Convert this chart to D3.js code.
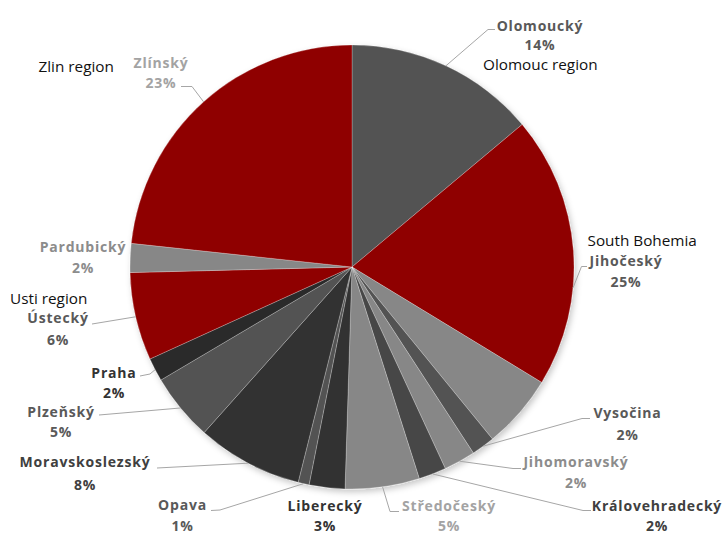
<!DOCTYPE html>
<html>
<head>
<meta charset="utf-8">
<script src="https://cdn.jsdelivr.net/npm/d3@7"></script>
<style>
  html, body { margin: 0; padding: 0; background: #ffffff; }
  svg { display: block; }
</style>
</head>
<body>
<svg id="chart" width="725" height="534"></svg>
<script>
// Regional shares (%), clockwise from twelve o'clock
const regions = ["Olomoucký", "Jihočeský", "Vysočina", "Jihomoravský", "Královehradecký",
  "Středočeský", "Liberecký", "Opava", "Moravskoslezský", "Plzeňský", "Praha",
  "Ústecký", "Pardubický", "Zlínský"];
const shares = [13.9, 25.2, 1.7, 2.3, 2.0, 5.4, 2.6, 0.8, 7.7, 4.9, 1.7, 6.4, 2.1, 23.3];

// Jihočeský is drawn in two tones: the highlighted part and the remainder
const splitRegion = "Jihočeský";
const splitParts = [19.8, 5.4];

// Free-text notes attached to some regions
const noteRegions = ["Olomoucký", "Jihočeský", "Ústecký", "Zlínský"];
const noteTexts = ["Olomouc region", "South Bohemia", "Usti region", "Zlin region"];

// ---- styling ----
const RED = "#8f0000", MID = "#525252", LIGHT = "#878787", DARK = "#333333";
const sliceFill = {
  "Olomoucký": MID, "Jihočeský": RED, "Vysočina": MID, "Jihomoravský": LIGHT,
  "Královehradecký": "#474747", "Středočeský": LIGHT, "Liberecký": DARK, "Opava": MID,
  "Moravskoslezský": DARK, "Plzeňský": MID, "Praha": "#2a2a2a", "Ústecký": RED,
  "Pardubický": LIGHT, "Zlínský": RED
};
const splitFill = [RED, LIGHT];
const labelFill = {
  "Olomoucký": "#595959", "Jihočeský": "#595959", "Vysočina": "#595959",
  "Jihomoravský": "#8c8c8c", "Královehradecký": "#404040", "Středočeský": "#a3a3a3",
  "Liberecký": "#333333", "Opava": "#595959", "Moravskoslezský": "#404040",
  "Plzeňský": "#595959", "Praha": "#333333", "Ústecký": "#595959",
  "Pardubický": "#8c8c8c", "Zlínský": "#a3a3a3"
};

// Label placement: x = text centre, y = name baseline, py = percentage baseline,
// leader = bend/end points of the leader line (it starts on the rim of the slice)
const labelLayout = {
  "Olomoucký":       { x: 540,   y: 30.5,  py: 49.5,  leader: [[488, 29.5], [495, 29.5]] },
  "Jihočeský":       { x: 626,   y: 265.5, py: 286.5, leader: [[581.5, 266.5], [587, 266.5]] },
  "Vysočina":        { x: 627.5, y: 418,   py: 440,   leader: [[582, 418.5], [590, 418.5]] },
  "Jihomoravský":    { x: 576,   y: 467,   py: 488,   leader: [[513, 468.5], [521, 468.5]] },
  "Královehradecký": { x: 657,   y: 511,   py: 530.5, leader: [[583, 510.5], [591, 510.5]] },
  "Středočeský":     { x: 449,   y: 510.5, py: 530.5, leader: [[390, 511.5], [399, 511.5]] },
  "Liberecký":       { x: 325,   y: 510.5, py: 530.5, leader: [] },
  "Opava":           { x: 182.5, y: 510,   py: 530.5, leader: [[220, 510], [211, 510.5]] },
  "Moravskoslezský": { x: 85,    y: 467,   py: 489.5, leader: [[157, 468]] },
  "Plzeňský":        { x: 61,    y: 416.5, py: 437,   leader: [[99, 415]] },
  "Praha":           { x: 114,   y: 378,   py: 398,   leader: [[150, 374], [140, 376]] },
  "Ústecký":         { x: 58,    y: 323,   py: 345,   leader: [[92, 324]] },
  "Pardubický":      { x: 83,    y: 252,   py: 273,   leader: [] },
  "Zlínský":         { x: 161,   y: 67.5,  py: 87.5,  leader: [[192, 86.5], [181, 86.5]] }
};
const noteLayout = {
  "Olomoucký": { x: 483,   y: 70 },
  "Jihočeský": { x: 587.5, y: 246 },
  "Ústecký":   { x: 10,    y: 304 },
  "Zlínský":   { x: 38.5,  y: 72 }
};

const cx = 352, cy = 267, R = 222;

const svg = d3.select("#chart");

// soft drop shadow under the pie
const defs = svg.append("defs");
const f = defs.append("filter").attr("id", "pieShadow")
  .attr("x", "-10%").attr("y", "-10%").attr("width", "125%").attr("height", "125%");
f.append("feDropShadow").attr("dx", 2).attr("dy", 3).attr("stdDeviation", 3)
  .attr("flood-color", "#000").attr("flood-opacity", 0.22);

const data = regions.map((r, i) => ({ region: r, value: shares[i] }));
const total = d3.sum(shares);

const pie = d3.pie().value(d => d.value).sort(null)
  .startAngle(0).endAngle(2 * Math.PI);
const arcs = pie(data);

const arc = d3.arc().innerRadius(0).outerRadius(R);
const rimArc = d3.arc().innerRadius(R).outerRadius(R);

// expand the split region into its sub-wedges
const wedges = [];
arcs.forEach(a => {
  if (a.data.region === splitRegion) {
    const partScale = d3.scaleLinear()
      .domain([0, d3.sum(splitParts)])
      .range([a.startAngle, a.endAngle]);
    const cum = d3.cumsum(splitParts);
    splitParts.forEach((p, j) => {
      wedges.push({
        startAngle: partScale(cum[j] - p),
        endAngle: partScale(cum[j]),
        fill: splitFill[j]
      });
    });
  } else {
    wedges.push({ startAngle: a.startAngle, endAngle: a.endAngle, fill: sliceFill[a.data.region] });
  }
});

const g = svg.append("g").attr("transform", `translate(${cx},${cy})`);

g.append("g").attr("filter", "url(#pieShadow)")
  .selectAll("path")
  .data(wedges)
  .join("path")
  .attr("d", arc)
  .attr("fill", d => d.fill)
  .attr("stroke", "#ffffff")
  .attr("stroke-opacity", 0.35)
  .attr("stroke-width", 0.7)
  .attr("stroke-linejoin", "round");

// leader lines
const lines = svg.append("g").attr("fill", "none")
  .attr("stroke", "#a6a6a6").attr("stroke-width", 1);
arcs.forEach(a => {
  const lay = labelLayout[a.data.region];
  if (!lay.leader.length) return;
  const [ex, ey] = rimArc.centroid(a);
  const pts = [[cx + ex, cy + ey]].concat(lay.leader);
  lines.append("path").attr("d", d3.line()(pts));
});

// data labels: name + percentage
const pct = d3.format(".0%");
const labels = svg.append("g")
  .attr("font-family", "'Open Sans', 'Noto Sans', sans-serif")
  .attr("font-weight", 700)
  .attr("font-size", 14)
  .attr("letter-spacing", "0.8px")
  .attr("text-anchor", "middle");

arcs.forEach(a => {
  const r = a.data.region;
  const lay = labelLayout[r];
  labels.append("text").attr("x", lay.x).attr("y", lay.y)
    .attr("fill", labelFill[r]).text(r);
  labels.append("text").attr("x", lay.x).attr("y", lay.py)
    .attr("fill", labelFill[r]).text(pct(a.data.value / total));
});

// notes
const notes = svg.append("g")
  .attr("font-family", "'Open Sans', 'Noto Sans', sans-serif")
  .attr("font-size", 15.3)
  .attr("fill", "#111111");
noteRegions.forEach((r, i) => {
  const lay = noteLayout[r];
  notes.append("text").attr("x", lay.x).attr("y", lay.y).text(noteTexts[i]);
});
</script>
</body>
</html>
